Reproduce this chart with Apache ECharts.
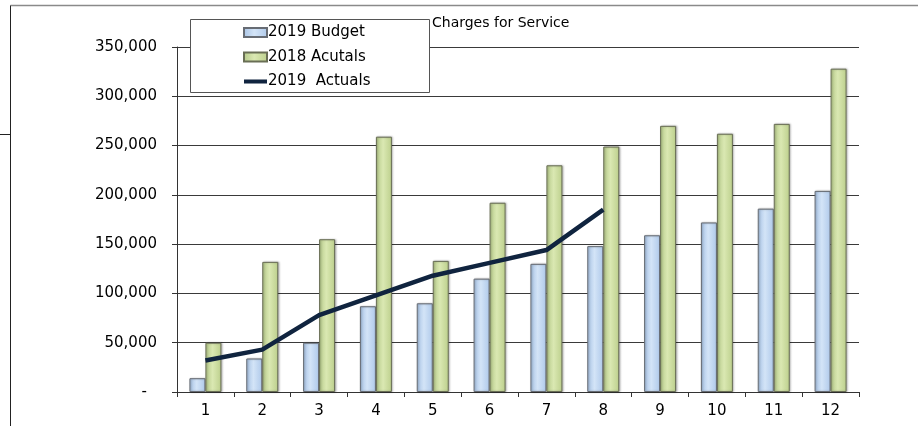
<!DOCTYPE html>
<html>
<head>
<meta charset="utf-8">
<script src="https://cdn.jsdelivr.net/npm/echarts@6/dist/echarts.min.js"></script>
<style>
  html, body { margin: 0; padding: 0; background: #ffffff; }
  #chart { width: 918px; height: 426px; }
</style>
</head>
<body>
<div id="chart"></div>
<script>
// Monthly charges for service
const months = ['1', '2', '3', '4', '5', '6', '7', '8', '9', '10', '11', '12'];
const budget2019 = [14000, 34000, 50000, 87000, 90000, 115000, 130000, 148000, 159000, 172000, 186000, 204000];
const actuals2018 = [50000, 132000, 155000, 259000, 133000, 192000, 230000, 249000, 270000, 262000, 272000, 328000];
const actuals2019 = [32000, 43000, 78000, 98000, 118000, 131000, 144000, 185000];
const yTicks = { min: 0, max: 350000, step: 50000 };

const FONT = '"DejaVu Sans", "Liberation Sans", Arial, sans-serif';
const LINE_COLOR = '#10243f';

function barGradient(edge, mid, edge2) {
  return new echarts.graphic.LinearGradient(0, 0, 1, 0, [
    { offset: 0, color: edge },
    { offset: 0.45, color: mid },
    { offset: 1, color: edge2 }
  ]);
}

const chart = echarts.init(document.getElementById('chart'), null, { renderer: 'canvas' });

chart.setOption({
  backgroundColor: '#ffffff',
  animation: false,
  textStyle: { fontFamily: FONT },
  title: {
    text: 'Charges for Service',
    left: 432,
    top: 16,
    padding: 0,
    textStyle: { fontSize: 14, fontWeight: 'normal', color: '#000', fontFamily: FONT }
  },
  graphic: [
    // outer frame
    { type: 'line', shape: { x1: 10.5, y1: 5.5, x2: 918, y2: 5.5 }, style: { stroke: '#8a8a8a', lineWidth: 1.5 }, z: 0 },
    { type: 'line', shape: { x1: 10.5, y1: 5.5, x2: 10.5, y2: 426 }, style: { stroke: '#222', lineWidth: 1 }, z: 0 },
    { type: 'line', shape: { x1: 0, y1: 134.5, x2: 10.5, y2: 134.5 }, style: { stroke: '#222', lineWidth: 1 }, z: 0 },
    // legend box
    { type: 'rect', shape: { x: 190.5, y: 19.5, width: 239, height: 73 }, style: { fill: '#fff', stroke: '#555', lineWidth: 1 }, z: 50 }
  ],
  legend: {
    orient: 'vertical',
    left: 243,
    top: 25,
    padding: 0,
    itemWidth: 23,
    itemHeight: 9,
    itemGap: 9.5,
    z: 60,
    textStyle: { fontSize: 15, color: '#000', fontFamily: FONT, padding: [0, 0, 0, -4] },
    data: [
      { name: '2019 Budget', icon: 'rect' },
      { name: '2018 Acutals', icon: 'rect' },
      { name: '2019  Actuals', icon: 'path://M0,0L24,0L24,4.2L0,4.2Z', itemStyle: { color: LINE_COLOR, borderWidth: 0 } }
    ]
  },
  grid: { left: 177, right: 59, top: 47, bottom: 34, containLabel: false },
  xAxis: {
    type: 'category',
    data: months,
    boundaryGap: true,
    axisLine: { show: true, lineStyle: { color: '#333', width: 1 } },
    axisTick: { show: true, length: 5, lineStyle: { color: '#333' } },
    axisLabel: { fontSize: 15, color: '#000', margin: 12, fontFamily: FONT },
    splitLine: { show: false }
  },
  yAxis: {
    type: 'value',
    min: yTicks.min,
    max: yTicks.max,
    interval: yTicks.step,
    axisLine: { show: true, lineStyle: { color: '#333', width: 1 } },
    axisTick: { show: true, length: 5, lineStyle: { color: '#333' } },
    splitLine: { show: true, lineStyle: { color: '#3a3a3a', width: 1 } },
    axisLabel: {
      fontSize: 15,
      color: '#000',
      margin: 20,
      fontFamily: FONT,
      formatter: function (v) {
        if (v === 0) return '{z|-}';
        return v.toLocaleString('en-US');
      },
      rich: { z: { fontSize: 15, color: '#000', padding: [0, 10, 0, 0], fontFamily: FONT } }
    }
  },
  series: [
    {
      name: '2019 Budget',
      type: 'bar',
      data: budget2019,
      barWidth: 16,
      barGap: '0%',
      itemStyle: {
        color: barGradient('#a8c3e5', '#d3e4f7', '#afc9ea'),
        borderColor: '#676c74',
        borderWidth: 1,
        shadowColor: 'rgba(0,0,0,0.25)',
        shadowBlur: 2,
        shadowOffsetX: 1
      }
    },
    {
      name: '2018 Acutals',
      type: 'bar',
      data: actuals2018,
      barWidth: 16,
      barGap: '0%',
      itemStyle: {
        color: barGradient('#b6ca8a', '#dae8b2', '#bccf8c'),
        borderColor: '#696e55',
        borderWidth: 1,
        shadowColor: 'rgba(0,0,0,0.25)',
        shadowBlur: 2,
        shadowOffsetX: 1
      }
    },
    {
      name: '2019  Actuals',
      type: 'line',
      data: actuals2019,
      symbol: 'none',
      z: 5,
      lineStyle: { color: LINE_COLOR, width: 4.5 },
      itemStyle: { color: LINE_COLOR }
    }
  ]
});
</script>
</body>
</html>
